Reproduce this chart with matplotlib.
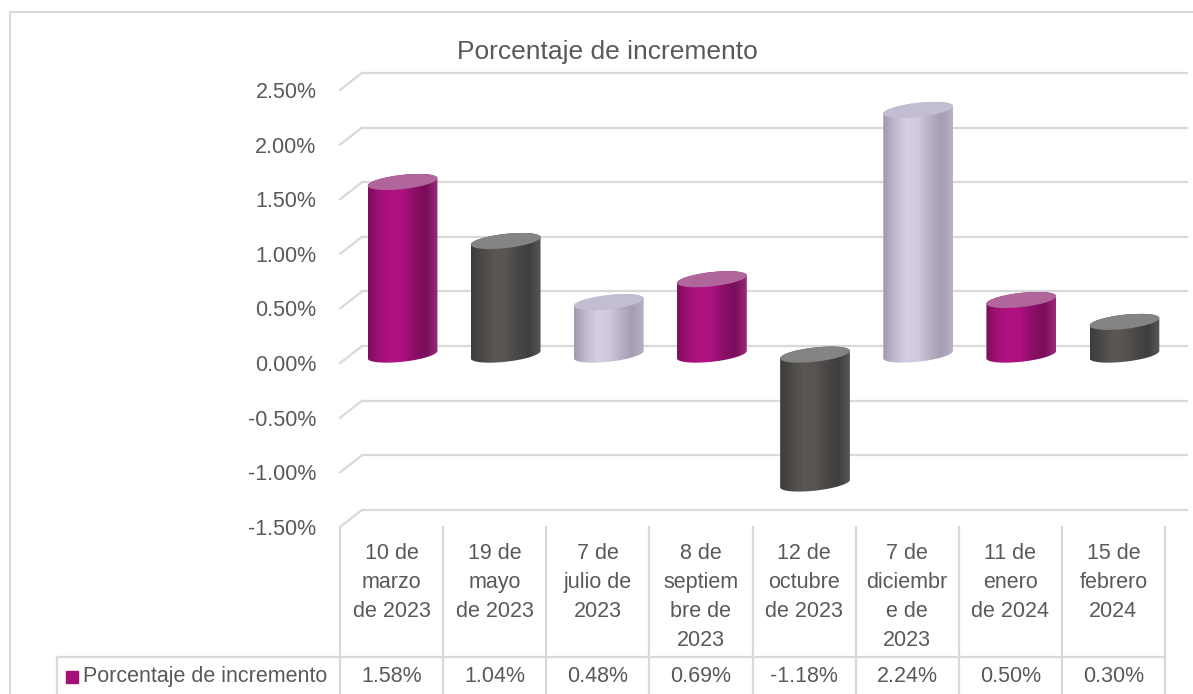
import numpy as np
import matplotlib
matplotlib.use("Agg")
import matplotlib.pyplot as plt
from matplotlib.path import Path
from matplotlib.patches import PathPatch, Ellipse
from matplotlib.colors import LinearSegmentedColormap
from matplotlib.lines import Line2D

plt.rcParams['font.family'] = ['Liberation Sans', 'DejaVu Sans']

# datos
fechas = ["10 de\nmarzo\nde 2023", "19 de\nmayo\nde 2023", "7 de\njulio de\n2023",
          "8 de\nseptiem\nbre de\n2023", "12 de\noctubre\nde 2023", "7 de\ndiciembr\ne de\n2023",
          "11 de\nenero\nde 2024", "15 de\nfebrero\n2024"]
incremento = [1.58, 1.04, 0.48, 0.69, -1.18, 2.24, 0.50, 0.30]
etiquetas = ["1.58%", "1.04%", "0.48%", "0.69%", "-1.18%", "2.24%", "0.50%", "0.30%"]
colores_barra = ["magenta", "gris", "lila", "magenta", "gris", "lila", "magenta", "gris"]
ticks_y = [-1.5, -1.0, -0.5, 0.0, 0.5, 1.0, 1.5, 2.0, 2.5]
serie = "Porcentaje de incremento"

# estilos de los cilindros: degradado del cuerpo y color de la tapa
estilos = {
    "magenta": (["#7c0d5c", "#a31178", "#b01280", "#ab1180", "#8a0f66", "#7a0d5b", "#9a2a7c"], "#b0659b"),
    "gris": (["#3e3c3b", "#4c4a48", "#5a5755", "#575452", "#4a4846", "#403e3d", "#5a5856"], "#868483"),
    "lila": (["#9f99ab", "#c2b9cf", "#d6cce3", "#d2c8df", "#b9b0c6", "#a59eb2", "#b8b1c4"], "#c2bdd0"),
}

GRIS_TXT = "#595959"
GRIS_LIN = "#d9d9d9"
FS = 15.5
DX, DY = 0.213, 0.156      # desplazamiento de profundidad (unidades de datos)
ANCHO = 0.68
ALTO_ELIPSE = 0.13
INCL = 6

fig = plt.figure(figsize=(11.93, 6.94), dpi=100)
ax = fig.add_axes([340 / 1193, 167 / 694, 825 / 1193, 437 / 694])
ax.set_xlim(0, 8)
ax.set_ylim(-1.5, 2.5)
ax.set_autoscale_on(False)
for s in ax.spines.values():
    s.set_visible(False)
ax.set_xticks([])
ax.set_yticks(ticks_y)
ax.set_yticklabels(["%.2f%%" % t for t in ticks_y], fontsize=FS, color=GRIS_TXT)
ax.tick_params(axis='y', length=0, pad=17)

# lineas de cuadricula (pared del fondo)
for t in ticks_y:
    ax.plot([0, DX], [t, t + DY], color=GRIS_LIN, lw=1.6, clip_on=False, zorder=1)
    ax.plot([DX, 8 + DX], [t + DY, t + DY], color=GRIS_LIN, lw=1.6, clip_on=False, zorder=1)


def elipse_pts(cx, cy, a, b, t):
    phi = np.deg2rad(INCL)
    x = cx + a * np.cos(t) * np.cos(phi) - b * np.sin(t) * np.sin(phi)
    y = cy + a * np.cos(t) * np.sin(phi) + b * np.sin(t) * np.cos(phi)
    return x, y


def cilindro(cx, y0, y1, estilo):
    colores, tapa = estilos[estilo]
    a, b = ANCHO / 2, ALTO_ELIPSE / 2
    d = np.arctan(-(b / a) * np.tan(np.deg2rad(INCL)))
    t_inf = np.linspace(np.pi + d, 2 * np.pi + d, 80)
    t_sup = np.linspace(d, np.pi + d, 80)
    xb, yb = elipse_pts(cx, y0, a, b, t_inf)
    xt, yt = elipse_pts(cx, y1, a, b, t_sup)
    verts = np.vstack([np.column_stack([xb, yb]), np.column_stack([xt, yt])])
    verts = np.vstack([verts, verts[:1]])
    codes = [Path.MOVETO] + [Path.LINETO] * (len(verts) - 2) + [Path.CLOSEPOLY]
    cuerpo = PathPatch(Path(verts, codes), transform=ax.transData, facecolor="none", edgecolor="none")
    cmap = LinearSegmentedColormap.from_list(estilo, colores)
    grad = np.linspace(0, 1, 256).reshape(1, -1)
    im = ax.imshow(grad, cmap=cmap, aspect='auto', interpolation='bicubic',
                   extent=[verts[:, 0].min(), verts[:, 0].max(), verts[:, 1].min(), verts[:, 1].max()],
                   zorder=3)
    im.set_clip_path(cuerpo)
    ax.add_patch(Ellipse((cx, y1), ANCHO, ALTO_ELIPSE, angle=INCL, facecolor=tapa,
                         edgecolor="none", zorder=4))


for i, v in enumerate(incremento):
    cx = i + 0.5 + DX / 2
    base = DY / 2
    cilindro(cx, min(base, v + base), max(base, v + base), colores_barra[i])

# tabla de datos
y_tabla_top = -1.5
y_fila = -2.69
y_fin = -3.2
x_leyenda = -2.745
for k in range(9):
    ax.plot([k, k], [y_tabla_top, y_fin], color=GRIS_LIN, lw=1.6, clip_on=False)
ax.plot([x_leyenda, 8], [y_fila, y_fila], color=GRIS_LIN, lw=1.6, clip_on=False)
ax.plot([x_leyenda, x_leyenda], [y_fila, y_fin], color=GRIS_LIN, lw=1.6, clip_on=False)

for i, (f, e) in enumerate(zip(fechas, etiquetas)):
    ax.text(i + 0.5, -1.65, f, ha='center', va='top', fontsize=FS, color=GRIS_TXT,
            linespacing=1.5, clip_on=False)
    ax.text(i + 0.5, -2.87, e, ha='center', va='center', fontsize=FS, color=GRIS_TXT, clip_on=False)

ax.plot([-2.6], [-2.87], marker='s', markersize=9, color="#a50f79", clip_on=False)
ax.text(-2.49, -2.87, serie, ha='left', va='center', fontsize=FS, color=GRIS_TXT, clip_on=False)

fig.text(607 / 1193, 1 - 52 / 694, serie, ha='center', va='center', fontsize=19, color=GRIS_TXT)

# borde del grafico
fig.add_artist(Line2D([10 / 1193, 10 / 1193], [0, 1 - 12 / 694], color=GRIS_LIN, lw=1.5))
fig.add_artist(Line2D([10 / 1193, 1], [1 - 12 / 694, 1 - 12 / 694], color=GRIS_LIN, lw=1.5))

fig.savefig("out.png", dpi=100)
